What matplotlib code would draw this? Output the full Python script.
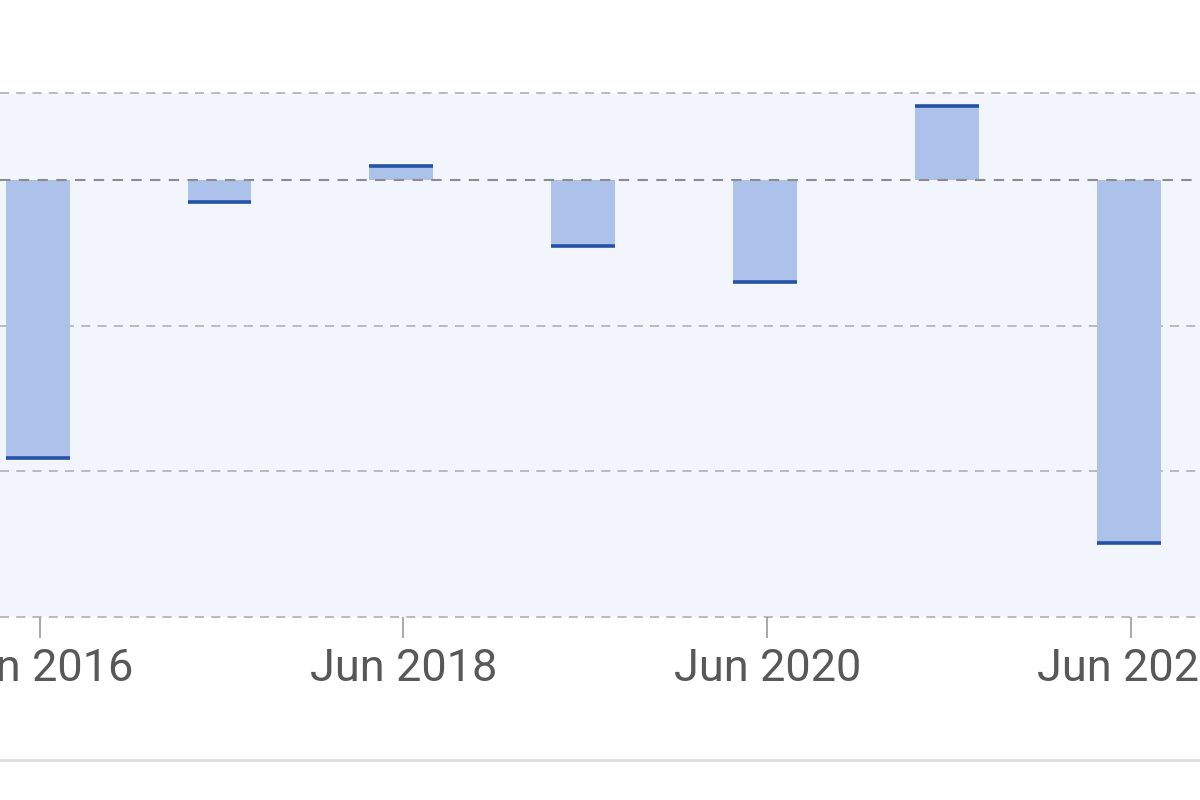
import matplotlib
matplotlib.use("Agg")
import matplotlib.pyplot as plt
import matplotlib.dates as mdates
import numpy as np
from datetime import datetime, timedelta

# yearly values (grid unit = 1)
years = [2016, 2017, 2018, 2019, 2020, 2021, 2022]
values = [-1.91, -0.15, 0.10, -0.45, -0.70, 0.51, -2.49]
tick_years = [2016, 2018, 2020, 2022]

plt.rcParams['font.family'] = ['Roboto', 'DejaVu Sans']

fig = plt.figure(figsize=(12, 8), dpi=100)
ax = fig.add_axes([0, 0.22875, 1, 0.655])
ax.set_facecolor('#f2f5fc')

dates = [datetime(y, 5, 28) for y in years]
x = mdates.date2num(dates)
width = 128
ax.bar(x, values, width=width, color='#adc2ea', zorder=2)
ax.hlines(values, x - width / 2, x + width / 2, color='#2452a8', linewidth=2.6, zorder=3)

ax.set_xlim(mdates.date2num(datetime(2016, 3, 13)), mdates.date2num(datetime(2022, 10, 18)))
ax.set_ylim(-3, 0.6)

for yv in [0.6, -1, -2, -3]:
    ax.axhline(yv, color='#b5b5b5', linestyle=(0, (5, 4)), linewidth=1.3, zorder=1, clip_on=False)
ax.axhline(0, color='#8c8c8c', linestyle=(0, (5, 4)), linewidth=1.5, zorder=4)

for s in ax.spines.values():
    s.set_visible(False)
ax.set_yticks([])
ax.set_xticks(mdates.date2num([datetime(y, 6, 1) for y in tick_years]))
ax.set_xticklabels(['Jun %d' % y for y in tick_years])
ax.tick_params(axis='x', length=15, width=1.2, color='#999999', labelsize=32.5,
               labelcolor='#585858', pad=7)

# light separator line at the bottom
fig.add_artist(plt.Line2D([0, 1], [0.05, 0.05], color='#dddddd', linewidth=2))

fig.savefig('out.png', dpi=100, facecolor='white')
